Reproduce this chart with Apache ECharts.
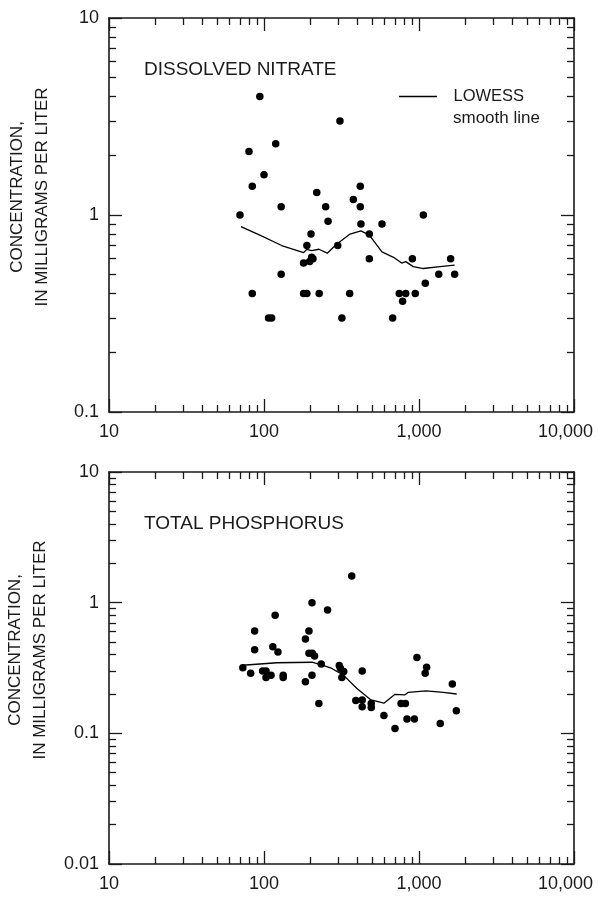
<!DOCTYPE html>
<html>
<head>
<meta charset="utf-8">
<script src="https://cdn.jsdelivr.net/npm/echarts@6/dist/echarts.min.js"></script>
<style>
  html, body { margin: 0; padding: 0; background: #fff; }
  #chart { width: 598px; height: 897px; }
</style>
</head>
<body>
<div id="chart"></div>
<script>
// streamflow (x) vs concentration (y)
const nitrateFlow = [70, 80, 84, 84, 94, 100, 107, 112, 119, 129, 129, 180, 180, 189, 189, 197, 201, 203, 207,
  219, 227, 250, 259, 299, 309, 318, 357, 377, 418, 418, 422, 478, 478, 577, 676, 746, 784, 821, 906, 946,
  1067, 1098, 1341, 1600, 1698];
const nitrateConc = [1.0, 2.1, 1.4, 0.40, 4.0, 1.6, 0.30, 0.30, 2.3, 1.1, 0.50, 0.57, 0.40, 0.70, 0.40, 0.58, 0.80, 0.61, 0.60,
  1.3, 0.40, 1.1, 0.93, 0.70, 3.0, 0.30, 0.40, 1.2, 1.4, 1.1, 0.90, 0.80, 0.60, 0.90, 0.30, 0.40, 0.365, 0.40, 0.60, 0.40,
  1.0, 0.45, 0.50, 0.60, 0.50];
const nitrateLowessFlow = [71, 94, 130, 180, 189, 203, 226, 256, 294, 359, 422, 478, 577, 684, 773, 821, 918, 1067, 1365, 1698];
const nitrateLowessConc = [0.873, 0.79, 0.70, 0.644, 0.67, 0.66, 0.67, 0.64, 0.71, 0.80, 0.83, 0.79, 0.65, 0.61, 0.57, 0.58, 0.547, 0.535, 0.547, 0.557];

const phosFlow = [73, 82, 87, 87, 98, 103, 103, 111, 114, 118, 123, 133, 133, 185, 185, 195, 195, 204, 205, 212, 204,
  226, 234, 257, 306, 311, 327, 318, 368, 391, 430, 430, 430, 492, 492, 594, 700, 766, 817, 837, 934, 970,
  1096, 1120, 1371, 1640, 1741];
const phosConc = [0.318, 0.288, 0.607, 0.436, 0.30, 0.30, 0.268, 0.278, 0.46, 0.80, 0.42, 0.278, 0.268, 0.248, 0.527, 0.607, 0.41, 1.0, 0.41, 0.39, 0.278,
  0.169, 0.34, 0.88, 0.33, 0.315, 0.297, 0.268, 1.60, 0.178, 0.30, 0.18, 0.16, 0.169, 0.158, 0.137, 0.109, 0.169, 0.169, 0.129, 0.129, 0.38,
  0.288, 0.32, 0.119, 0.239, 0.149];
const phosLowessFlow = [73, 121, 204, 234, 272, 324, 396, 490, 594, 700, 813, 853, 1109, 1436, 1750];
const phosLowessConc = [0.332, 0.347, 0.35, 0.334, 0.315, 0.28, 0.221, 0.18, 0.17, 0.199, 0.197, 0.206, 0.211, 0.206, 0.20];

const xMinorTicks = [20, 30, 40, 50, 60, 70, 80, 90, 200, 300, 400, 500, 600, 700, 800, 900,
  2000, 3000, 4000, 5000, 6000, 7000, 8000, 9000];
const yMinorTicks = [0.02, 0.03, 0.04, 0.05, 0.06, 0.07, 0.08, 0.09, 0.2, 0.3, 0.4, 0.5, 0.6, 0.7, 0.8, 0.9,
  2, 3, 4, 5, 6, 7, 8, 9];
const xTickLabels = {10: '10', 100: '100', 1000: '1,000', 10000: '{r|10,000}'};
const yTickLabels = {0.01: '0.01', 0.1: '0.1', 1: '1', 10: '10'};

const FONT = '"Liberation Sans", Arial, Helvetica, sans-serif';
const INK = '#1a1a1a';
const panels = [
  {title: 'DISSOLVED NITRATE', yMin: 0.1, yMax: 10, top: 18, height: 394},
  {title: 'TOTAL PHOSPHORUS', yMin: 0.01, yMax: 10, top: 472, height: 392}
];

function pairs(xs, ys) {
  return xs.map((x, i) => [x, ys[i]]);
}

function axisPair(dim, g, pos, major) {
  const isX = dim === 'x';
  const ax = {
    type: 'log', logBase: 10, gridIndex: g, position: pos,
    min: isX ? 10 : panels[g].yMin,
    max: isX ? 10000 : panels[g].yMax,
    splitLine: {show: false},
    axisLine: {show: major, onZero: false, lineStyle: {color: INK, width: 1.6}},
    axisTick: {show: true, inside: true, length: major ? 13 : 7, lineStyle: {color: INK, width: 1.3}},
    axisLabel: {show: false}
  };
  if (!major) ax.axisTick.customValues = isX ? xMinorTicks : yMinorTicks;
  return ax;
}

const xAxis = [], yAxis = [], grid = [], series = [], title = [];
panels.forEach((p, g) => {
  grid.push({left: 109, top: p.top, width: 465, height: p.height, outerBoundsMode: 'none'});
  const xb = axisPair('x', g, 'bottom', true);
  xb.axisLabel = {
    show: true, margin: 11, fontSize: 18, color: INK, fontFamily: FONT,
    formatter: v => xTickLabels[Math.round(v)] || '',
    rich: {r: {fontSize: 18, color: INK, fontFamily: FONT, padding: [0, 17, 0, 0]}}
  };
  const yl = axisPair('y', g, 'left', true);
  yl.axisLabel = {
    show: true, margin: 10, fontSize: 18, color: INK, fontFamily: FONT,
    formatter: v => yTickLabels[+v.toPrecision(3)] || ''
  };
  yl.name = 'CONCENTRATION,\nIN MILLIGRAMS PER LITER';
  yl.nameLocation = 'middle';
  yl.nameRotate = 90;
  yl.nameGap = 54;
  yl.nameTextStyle = {fontSize: 17, lineHeight: 25, color: INK, fontFamily: FONT, padding: [0, 0, 0, 36]};
  xAxis.push(xb, axisPair('x', g, 'bottom', false), axisPair('x', g, 'top', true), axisPair('x', g, 'top', false));
  yAxis.push(yl, axisPair('y', g, 'left', false), axisPair('y', g, 'right', true), axisPair('y', g, 'right', false));
  title.push({
    text: p.title, left: 144, top: p.top + 40.5, padding: 0,
    textStyle: {fontSize: 19, lineHeight: 23, fontWeight: 'normal', color: INK, fontFamily: FONT}
  });
});

const dotStyle = {color: '#000', opacity: 1};
const lowessStyle = {color: '#000', width: 1.3};
series.push(
  {type: 'scatter', xAxisIndex: 0, yAxisIndex: 0, symbolSize: 7.5, itemStyle: dotStyle,
    data: pairs(nitrateFlow, nitrateConc), silent: true},
  {type: 'line', name: 'LOWESS', xAxisIndex: 0, yAxisIndex: 0, symbol: 'none', itemStyle: {color: '#000'},
    lineStyle: lowessStyle, data: pairs(nitrateLowessFlow, nitrateLowessConc), silent: true},
  {type: 'scatter', xAxisIndex: 4, yAxisIndex: 4, symbolSize: 7.5, itemStyle: dotStyle,
    data: pairs(phosFlow, phosConc), silent: true},
  {type: 'line', xAxisIndex: 4, yAxisIndex: 4, symbol: 'none', itemStyle: {color: '#000'},
    lineStyle: lowessStyle, data: pairs(phosLowessFlow, phosLowessConc), silent: true}
);

title.push({
  text: 'smooth line', left: 453, top: 108.5, padding: 0,
  textStyle: {fontSize: 17, lineHeight: 20, fontWeight: 'normal', color: INK, fontFamily: FONT}
});

const chart = echarts.init(document.getElementById('chart'), null, {renderer: 'canvas'});
chart.setOption({
  animation: false,
  backgroundColor: '#fff',
  title: title,
  legend: {
    data: [{name: 'LOWESS', icon: 'rect'}], left: 399, top: 88, padding: 0,
    itemWidth: 38, itemHeight: 1.4, selectedMode: false,
    itemStyle: {color: '#000', borderWidth: 0},
    textStyle: {fontSize: 16.5, color: INK, fontFamily: FONT, padding: [0, 0, 0, 11.5]}
  },
  grid: grid,
  xAxis: xAxis,
  yAxis: yAxis,
  series: series
});
</script>
</body>
</html>
